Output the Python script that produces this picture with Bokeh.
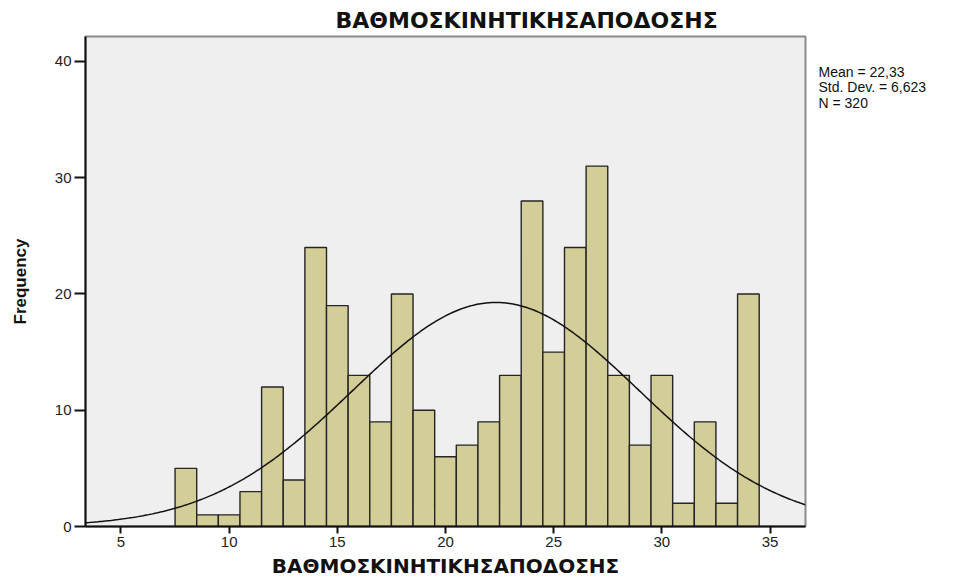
import numpy as np
from bokeh.plotting import figure
from bokeh.models import Range1d, FixedTicker, Label
from bokeh.embed import file_html
from bokeh.resources import INLINE

# Histogram data (bin centers, frequencies)
scores = [8, 9, 10, 11, 12, 13, 14, 15, 16, 17, 18, 19, 20, 21, 22, 23, 24, 25, 26, 27, 28, 29, 30, 31, 32, 33, 34]
freqs = [5, 1, 1, 3, 12, 4, 24, 19, 13, 9, 20, 10, 6, 7, 9, 13, 28, 15, 24, 31, 13, 7, 13, 2, 9, 2, 20]
bin_width = 1.0
mean_val = 22.33
std_val = 6.623
n_val = 320
x_ticks = [5, 10, 15, 20, 25, 30, 35]
y_ticks = [0, 10, 20, 30, 40]
title_text = "ΒΑΘΜΟΣΚΙΝΗΤΙΚΗΣΑΠΟΔΟΣΗΣ"
xlabel_text = "ΒΑΘΜΟΣΚΙΝΗΤΙΚΗΣΑΠΟΔΟΣΗΣ"
ylabel_text = "Frequency"
stats_lines = ["Mean = 22,33", "Std. Dev. = 6,623", "N = 320"]

x_lo, x_hi = 3.36, 36.64
y_lo, y_hi = 0, 42.15

p = figure(width=965, height=581, output_backend="svg", toolbar_location=None,
           x_range=Range1d(x_lo, x_hi), y_range=Range1d(y_lo, y_hi),
           min_border_left=85, min_border_right=160, min_border_top=36, min_border_bottom=55)

p.background_fill_color = "#efefef"
p.border_fill_color = "white"
p.outline_line_color = "#8a8a8a"
p.outline_line_width = 2
p.xgrid.visible = False
p.ygrid.visible = False

# title
p.title.text = title_text
p.title.align = "left"
p.title.offset = 250
p.title.text_font = "DejaVu Sans"
p.title.text_font_style = "bold"
p.title.text_font_size = "22px"
p.title.text_color = "#111111"
p.title.standoff = 8

centers = np.array(scores, dtype=float)
p.quad(left=centers - bin_width / 2, right=centers + bin_width / 2, top=freqs, bottom=0,
       fill_color="#d3ce97", line_color="#252525", line_width=1.4)

# Normal curve
xs = np.linspace(x_lo, x_hi, 400)
ys = n_val * bin_width / (std_val * np.sqrt(2 * np.pi)) * np.exp(-0.5 * ((xs - mean_val) / std_val) ** 2)
p.line(xs, ys, line_color="#111111", line_width=1.5)

# Axes styling
for ax in (p.xaxis[0], p.yaxis[0]):
    ax.axis_line_color = "#111111"
    ax.axis_line_width = 2
    ax.major_tick_line_color = "#111111"
    ax.major_tick_line_width = 2
    ax.major_tick_in = 0
    ax.minor_tick_line_color = None
    ax.major_label_text_font = "Liberation Sans"
    ax.major_label_text_font_size = "15px"
    ax.major_label_text_color = "#222222"
    ax.axis_label_text_font_style = "bold"
    ax.axis_label_text_color = "#111111"

p.xaxis.ticker = FixedTicker(ticks=x_ticks)
p.yaxis.ticker = FixedTicker(ticks=y_ticks)
p.xaxis.major_tick_out = 7
p.xaxis.major_label_standoff = 3
p.yaxis.major_tick_out = 11
p.yaxis.major_label_standoff = 3

p.yaxis.axis_label = ylabel_text
p.yaxis.axis_label_text_font = "Liberation Sans"
p.yaxis.axis_label_text_font_size = "17px"
p.yaxis.axis_label_standoff = 22

p.xaxis.axis_label = xlabel_text
p.xaxis.axis_label_text_font = "DejaVu Sans"
p.xaxis.axis_label_text_font_size = "20px"
p.xaxis.axis_label_standoff = 4

# statistics, one multi-line label placed in the right side panel
p.add_layout(Label(x=13, y=463, x_units="screen", y_units="screen",
                   text="\n".join(stats_lines), text_align="left", text_baseline="top",
                   text_font="Liberation Sans", text_font_size="14px",
                   text_line_height=0.97, text_color="#111111"), "right")

open("out.html", "w").write(file_html(p, INLINE))
